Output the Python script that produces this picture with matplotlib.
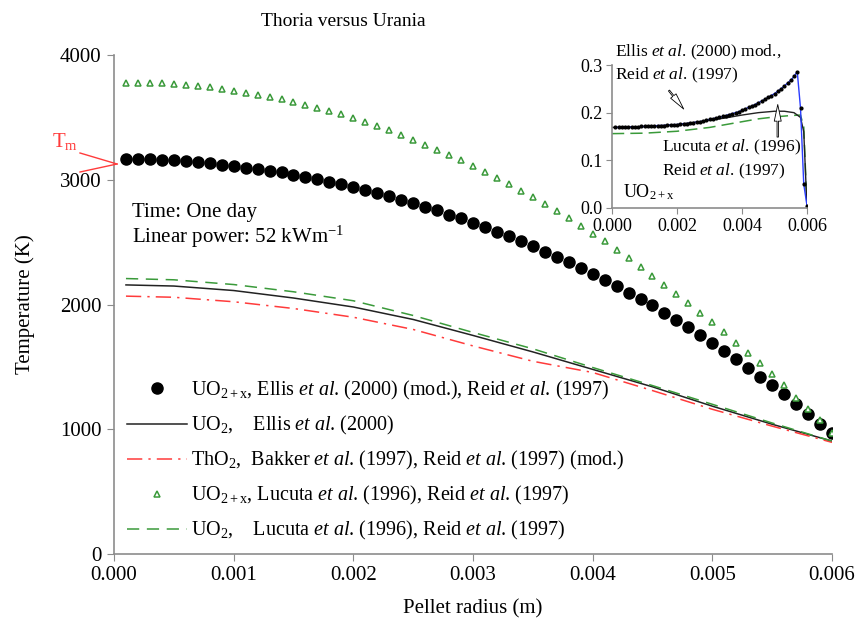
import numpy as np
import matplotlib
matplotlib.use("Agg")
import matplotlib.pyplot as plt
from matplotlib.ticker import FormatStrFormatter

plt.rcParams['font.family'] = ['Liberation Serif', 'DejaVu Serif']
plt.rcParams['mathtext.fontset'] = 'custom'
plt.rcParams['mathtext.rm'] = 'Liberation Serif'
plt.rcParams['mathtext.it'] = 'Liberation Serif:italic'
plt.rcParams['mathtext.bf'] = 'Liberation Serif:bold'

# radial grid of the point series (m)
r_pts = np.arange(1, 61) / 10000
# radial positions read for the line series (m)
r_line = [0.0001, 0.0005, 0.001, 0.0015, 0.002, 0.0025, 0.003,
          0.0035, 0.004, 0.0045, 0.005, 0.0055, 0.006]

# UO2+x, Ellis (mod.), Reid  -> black dots
t_uo2x_ellis = [3165, 3165, 3165, 3160, 3155, 3147, 3139, 3131, 3120, 3109,
                3096, 3085, 3072, 3059, 3040, 3024, 3005, 2984, 2965, 2941,
                2920, 2891, 2867, 2840, 2813, 2781, 2755, 2720, 2691, 2653,
                2621, 2581, 2547, 2507, 2467, 2424, 2381, 2339, 2291, 2248,
                2200, 2147, 2093, 2045, 1992, 1933, 1875, 1819, 1757, 1693,
                1629, 1560, 1493, 1421, 1352, 1280, 1200, 1120, 1040, 973]
# UO2+x, Lucuta, Reid -> open triangles
t_uo2x_lucuta = [3779, 3779, 3776, 3773, 3768, 3760, 3752, 3741, 3728, 3715,
                 3699, 3683, 3664, 3645, 3624, 3603, 3576, 3549, 3525, 3491,
                 3461, 3429, 3395, 3357, 3320, 3280, 3240, 3197, 3155, 3109,
                 3064, 3013, 2963, 2912, 2861, 2805, 2749, 2691, 2630, 2568,
                 2507, 2440, 2373, 2301, 2232, 2160, 2085, 2013, 1933, 1859,
                 1779, 1693, 1613, 1528, 1440, 1352, 1253, 1165, 1072, 973]
t_uo2_ellis = [2157, 2148, 2112, 2052, 1980, 1880, 1752, 1620, 1480, 1340, 1185, 1040, 905]
t_tho2 = [2067, 2058, 2022, 1968, 1898, 1800, 1668, 1545, 1455, 1310, 1160, 1025, 895]
t_uo2_lucuta = [2208, 2198, 2160, 2102, 2030, 1912, 1776, 1645, 1495, 1350, 1200, 1050, 905]

# inset: stoichiometry deviation x in UO2+x
x_ellis_mod = [0.169, 0.169, 0.169, 0.169, 0.170, 0.170, 0.170, 0.170, 0.171, 0.171,
               0.171, 0.172, 0.172, 0.173, 0.173, 0.173, 0.174, 0.174, 0.175, 0.175,
               0.176, 0.177, 0.177, 0.178, 0.179, 0.180, 0.181, 0.182, 0.184, 0.186,
               0.187, 0.189, 0.190, 0.192, 0.194, 0.196, 0.198, 0.200, 0.202, 0.205,
               0.208, 0.211, 0.214, 0.217, 0.221, 0.224, 0.228, 0.232, 0.236, 0.240,
               0.245, 0.250, 0.256, 0.262, 0.268, 0.276, 0.286, 0.210, 0.050, 0.005]
r_in_black = [0.0, 0.001, 0.002, 0.003, 0.0035, 0.004, 0.0045, 0.005, 0.0053, 0.0056, 0.0058, 0.0059, 0.006]
x_in_black = [0.169, 0.171, 0.175, 0.184, 0.189, 0.195, 0.200, 0.203, 0.203, 0.200, 0.190, 0.160, 0.0]
r_in_green = [0.0, 0.001, 0.002, 0.003, 0.004, 0.0045, 0.005, 0.0055, 0.0058, 0.0059, 0.006]
x_in_green = [0.156, 0.157, 0.161, 0.169, 0.181, 0.187, 0.191, 0.194, 0.195, 0.170, 0.0]

xticks = [0.000, 0.001, 0.002, 0.003, 0.004, 0.005, 0.006]
yticks = [0, 1000, 2000, 3000, 4000]

GREEN = '#3a9a3a'
RED = '#ff3b3b'
GREY = '#8c8c8c'

fig = plt.figure(figsize=(8.56, 6.24), dpi=100)
W, H = 856, 624
ax = fig.add_axes([114 / W, 1 - 554 / H, 718 / W, 499 / H])

ax.plot(r_pts, t_uo2x_ellis, 'o', color='black', ms=8, ls='none',
        label=r"UO$_{2+\mathrm{x}}$, Ellis $\it{et\ al}$. (2000) (mod.), Reid $\it{et\ al}$. (1997)")
ax.plot(r_line, t_uo2_ellis, color='#222222', lw=1.1,
        label=r"UO$_2$,    Ellis $\it{et\ al}$. (2000)")
ax.plot(r_line, t_tho2, color=RED, lw=1.1, ls=(0, (10, 4, 1.5, 4)),
        label=r"ThO$_2$,  Bakker $\it{et\ al}$. (1997), Reid $\it{et\ al}$. (1997) (mod.)")
ax.plot(r_pts, t_uo2x_lucuta, '^', mfc='white', mec=GREEN, mew=1.1, ms=4.8, ls='none',
        label=r"UO$_{2+\mathrm{x}}$, Lucuta $\it{et\ al}$. (1996), Reid $\it{et\ al}$. (1997)")
ax.plot(r_line, t_uo2_lucuta, color=GREEN, lw=1.1, ls=(0, (8, 5)),
        label=r"UO$_2$,    Lucuta $\it{et\ al}$. (1996), Reid $\it{et\ al}$. (1997)")

ax.set_xlim(0, 0.006)
ax.set_ylim(0, 4000)
ax.set_xticks(xticks)
ax.set_yticks(yticks)
ax.xaxis.set_major_formatter(FormatStrFormatter('%.3f'))
for s in ['top', 'right']:
    ax.spines[s].set_visible(False)
for s in ['left', 'bottom']:
    ax.spines[s].set_color(GREY)
    ax.spines[s].set_linewidth(1.2)
ax.tick_params(direction='out', length=5, color=GREY, labelsize=15, pad=4)
ax.set_xlabel('Pellet radius (m)', fontsize=15)
ax.set_ylabel('Temperature (K)', fontsize=15)
ax.xaxis.set_label_coords(0.5, -0.09)
ax.yaxis.set_label_coords(-0.11, 0.5)

leg = ax.legend(loc='upper left', bbox_to_anchor=(127 / W, 1 - 379 / H),
                bbox_transform=fig.transFigure, frameon=False, fontsize=14.5,
                handlelength=3.0, handletextpad=0.2, labelspacing=0.6,
                borderpad=0, borderaxespad=0)

fig.text(343 / W, 1 - 22 / H, 'Thoria versus Urania', fontsize=14,
         ha='center', va='center')
fig.text(132 / W, 1 - 217 / H, 'Time: One day', fontsize=15, va='baseline')
fig.text(132 / W, 1 - 243 / H, r'Linear power: 52 kWm$^{-1}$', fontsize=15, va='baseline')
fig.text(52 / W, 1 - 147 / H, r'T$_\mathrm{m}$', fontsize=15, color=RED, va='baseline')
fig.add_artist(plt.Line2D([80 / W, 117 / W], [1 - 153 / H, 1 - 164 / H], color=RED, lw=1))
fig.add_artist(plt.Line2D([80 / W, 117 / W], [1 - 172 / H, 1 - 164 / H], color=RED, lw=1))

# inset
axi = fig.add_axes([612 / W, 1 - 208 / H, 195 / W, 143 / H])
axi.plot(r_in_green, x_in_green, color=GREEN, lw=1.1, ls=(0, (8, 4)))
axi.plot(r_in_black, x_in_black, color='#222222', lw=1.0)
axi.plot(r_pts, x_ellis_mod, color='#2a3cff', lw=1.0, marker='o', ms=2,
         mfc='black', mec='black')
axi.set_xlim(0, 0.006)
axi.set_ylim(0, 0.3)
axi.set_xticks([0.0, 0.002, 0.004, 0.006])
axi.set_yticks([0.0, 0.1, 0.2, 0.3])
axi.xaxis.set_major_formatter(FormatStrFormatter('%.3f'))
axi.yaxis.set_major_formatter(FormatStrFormatter('%.1f'))
axi.patch.set_alpha(0)
for s in ['top', 'right']:
    axi.spines[s].set_visible(False)
for s in ['left', 'bottom']:
    axi.spines[s].set_color(GREY)
    axi.spines[s].set_linewidth(1.2)
axi.tick_params(direction='out', length=4, color=GREY, labelsize=13, pad=3)

axi.text(0.0001, 0.326, r"Ellis $\it{et\ al}$. (2000) mod.,", fontsize=12.5, va='center')
axi.text(0.0001, 0.278, r"Reid $\it{et\ al}$. (1997)", fontsize=12.5, va='center')
axi.text(0.00154, 0.128, r"Lucuta $\it{et\ al}$. (1996)", fontsize=12.5, va='center')
axi.text(0.00154, 0.076, r"Reid $\it{et\ al}$. (1997)", fontsize=12.5, va='center')
axi.text(0.00035, 0.034, r"UO$_{2+\mathrm{x}}$", fontsize=13, va='center')
axi.annotate('', xy=(0.00226, 0.203), xytext=(0.0017, 0.251),
             arrowprops=dict(arrowstyle='simple,head_length=1.2,head_width=0.5,tail_width=0.1',
                             fc='white', ec='black', lw=0.6))
axi.annotate('', xy=(0.0051, 0.223), xytext=(0.0051, 0.143),
             arrowprops=dict(arrowstyle='simple,head_length=1.2,head_width=0.5,tail_width=0.1',
                             fc='white', ec='black', lw=0.6))

fig.savefig('out.png', dpi=100)
